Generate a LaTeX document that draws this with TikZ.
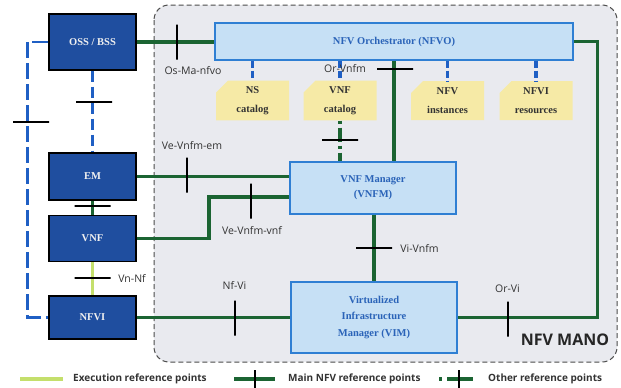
\documentclass[tikz,border=0pt]{standalone}
\usepackage{fontspec}
\setmainfont{Liberation Serif}
\setsansfont{Open Sans}
\usetikzlibrary{shapes.misc}
\definecolor{boxblue}{HTML}{1F4E9F}
\definecolor{lightblue}{HTML}{C6E0F5}
\definecolor{edgeblue}{HTML}{2F7FD3}
\definecolor{textblue}{HTML}{2A63B8}
\definecolor{catyellow}{HTML}{F6EAA6}
\definecolor{mgreen}{HTML}{1B6432}
\definecolor{lgreen}{HTML}{C4DF6C}
\definecolor{lineblue}{HTML}{1F5FC4}
\definecolor{manobg}{HTML}{E9EAEF}
\definecolor{labgray}{HTML}{333333}
\begin{document}
\begin{tikzpicture}[x=1pt,y=-1pt,
  darkbox/.style={draw=black, line width=1.2pt, fill=boxblue, text=white!88!gray,
    font=\bfseries\fontsize{10.5}{12}\selectfont, minimum width=87pt, inner sep=0},
  lightbox/.style={draw=edgeblue, line width=1.2pt, fill=lightblue, text=textblue,
    font=\bfseries\fontsize{10.5}{16.5}\selectfont, align=center, inner sep=0},
  catalog/.style={chamfered rectangle, chamfered rectangle corners=north west,
    chamfered rectangle xsep=6pt, chamfered rectangle ysep=6pt, fill=catyellow,
    minimum width=73pt, minimum height=39pt, inner sep=0, align=center,
    font=\bfseries\fontsize{10.5}{18.5}\selectfont, text=labgray},
  main/.style={draw=mgreen, line width=3.5pt},
  exec/.style={draw=lgreen, line width=3.5pt},
  otherg/.style={draw=mgreen, line width=3.5pt, dash pattern=on 3pt off 4pt on 14pt off 4pt},
  otherb/.style={draw=lineblue, line width=2.5pt, dash pattern=on 16pt off 5pt},
  catlink/.style={draw=lineblue, line width=3.5pt, dash pattern=on 7pt off 3pt},
  vtick/.style={draw=black, line width=1.1pt, minimum width=0pt, minimum height=35pt, inner sep=0, outer sep=0},
  htick/.style={draw=black, line width=1.1pt, minimum width=36pt, minimum height=0pt, inner sep=0, outer sep=0},
  lab/.style={font=\sffamily\fontsize{10.5}{12}\selectfont, text=labgray, inner sep=0},
  leg/.style={font=\sffamily\bfseries\fontsize{10}{12}\selectfont, text=labgray, inner sep=0, anchor=west}
]
\useasboundingbox (0,0) rectangle (621,388);
\fill[white] (0,0) rectangle (621,388);
% MANO area
\draw[draw=black!70, fill=manobg, line width=1pt, dash pattern=on 5pt off 3pt, rounded corners=15pt]
  (154,5) rectangle (617,362);
\node[font=\sffamily\bfseries\fontsize{16}{18}\selectfont, text=black!85, inner sep=0] (mano) at (565,340) {NFV MANO};

% left boxes
\node[darkbox, minimum height=56pt] (oss) at (92.5,42) {OSS / BSS};
\node[darkbox, minimum height=47pt] (em) at (92.5,176.5) {EM};
\node[darkbox, minimum height=46pt] (vnf) at (92.5,238.5) {VNF};
\node[darkbox, minimum height=43pt] (nfvi) at (92.5,317.5) {NFVI};

% MANO boxes
\node[lightbox, minimum width=358pt, minimum height=37pt] (nfvo) at (394,41.5) {NFV Orchestrator (NFVO)};
\node[lightbox, minimum width=166pt, minimum height=52pt, font=\bfseries\fontsize{10.5}{15}\selectfont] (vnfm) at (373,188) {VNF Manager\\(VNFM)};
\node[lightbox, minimum width=166pt, minimum height=71pt] (vim) at (374,317.5) {Virtualized\\Infrastructure\\Manager (VIM)};

\node[catalog] (ns) at (252.5,100.5) {NS\\catalog};
\node[catalog] (vnfc) at (340,100.5) {VNF\\catalog};
\node[catalog] (nfvinst) at (447.5,100.5) {NFV\\instances};
\node[catalog] (nfvires) at (536,100.5) {NFVI\\resources};

% catalog links
\draw[catlink] (nfvo.south -| ns.north) -- (ns.north);
\draw[catlink] (nfvo.south -| vnfc.north) -- (vnfc.north);
\draw[catlink] (nfvo.south -| nfvinst.north) -- (nfvinst.north);
\draw[catlink] (nfvo.south -| nfvires.north) -- (nfvires.north);

% main reference points
\draw[main] (oss.east) -- (oss.east -| nfvo.west);
\draw[main] (nfvo.south -| 394,0) -- (vnfm.north -| 394,0);
\draw[otherg] (vnfc.south) -- (vnfc.south |- vnfm.north);
\draw[main] (nfvo.east) -- ++(24,0) |- (vim.east);
\draw[main] (em.east) -- (em.east -| vnfm.west);
\coordinate (vbend) at (209,197);
\draw[main] (vnf.east) -| (vbend) -- (vbend -| vnfm.west);
\draw[main] (vnfm.south -| vim.north) -- (vim.north);
\draw[main] (nfvi.east) -- (nfvi.east -| vim.west);
\draw[main] (em.south) -- (vnf.north);
\draw[exec] (vnf.south) -- (nfvi.north);
\draw[otherb, dash pattern=on 11pt off 5pt] (oss.south) -- (em.north);
\draw[otherb] (oss.west) -- ++(-21,0) |- (nfvi.west);

% ticks
\node[vtick] (t1) at (177,42) {};
\node[htick] (t2) at (395,69) {};
\node[htick] (t3) at (340,140) {};
\node[vtick] (t4) at (187,175) {};
\node[vtick] (t5) at (251,201) {};
\node[htick] (t6) at (374,248) {};
\node[vtick] (t7) at (235,318) {};
\node[vtick] (t8) at (508,319) {};
\node[htick] (t9) at (94,102) {};
\node[htick] (t10) at (31,122) {};
\node[htick] (t11) at (92.5,206) {};
\node[htick] (t12) at (92.5,278) {};

% labels
\node[lab] (l1) at (193,71) {Os-Ma-nfvo};
\node[lab] (l2) at (345,69) {Or-Vnfm};
\node[lab] (l3) at (192,146) {Ve-Vnfm-em};
\node[lab] (l4) at (252,231) {Ve-Vnfm-vnf};
\node[lab] (l5) at (419.5,248) {Vi-Vnfm};
\node[lab] (l6) at (234.5,285) {Nf-Vi};
\node[lab] (l7) at (507.5,289) {Or-Vi};
\node[lab] (l8) at (132,278) {Vn-Nf};

% legend
\coordinate (g1a) at (20,379); \coordinate (g1b) at (63,379);
\draw[exec] (g1a) -- (g1b);
\node[leg] (g1t) at (73,379) {Execution reference points};
\coordinate (g2a) at (234,379); \coordinate (g2b) at (275,379);
\draw[main] (g2a) -- (g2b);
\node[vtick, minimum height=18pt] (g2k) at (255,379) {};
\node[leg] (g2t) at (288,379) {Main NFV reference points};
\coordinate (g3a) at (439,379); \coordinate (g3b) at (473,379);
\draw[otherg, dash pattern=on 3pt off 5pt on 26pt off 4pt] (g3a) -- (g3b);
\node[vtick, minimum height=18pt] (g3k) at (459,379) {};
\node[leg] (g3t) at (488,379) {Other reference points};
\end{tikzpicture}
\end{document}
